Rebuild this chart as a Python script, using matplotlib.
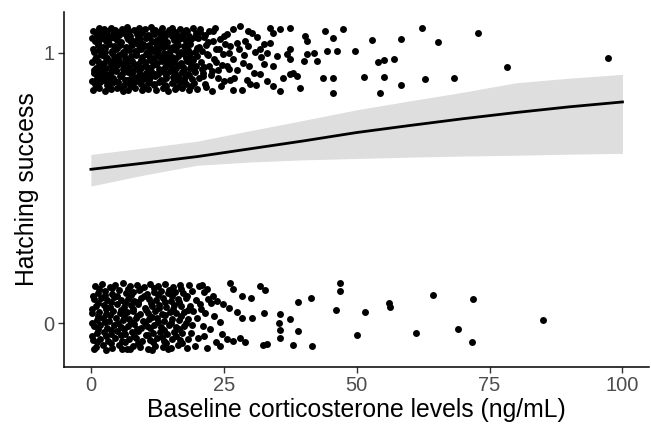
import numpy as np
import matplotlib
matplotlib.use("Agg")
import matplotlib.pyplot as plt

## DATA
#
# jittered points around hatching success = 1
top_x = [
    0.4, 1.6, 2.5, 3.8, 4.6, 5.9, 6.8, 8.1, 9.0, 10.2, 11.3, 12.1, 13.4, 14.6, 15.3, 16.8, 17.9, 19.2, 20.6, 22.3,
    1.1, 2.0, 3.2, 4.1, 5.3, 6.3, 7.4, 8.6, 9.7, 10.8, 11.8, 12.9, 13.9, 15.0, 16.2, 17.3, 18.5, 19.8, 21.4,
    0.7, 1.8, 2.8, 3.6, 4.9, 5.7, 7.0, 7.9, 9.3, 10.4, 11.5, 12.5, 13.6, 14.4, 15.7, 16.6, 17.8, 18.9, 20.1, 23.0,
    1.3, 2.3, 3.4, 4.4, 5.5, 6.6, 7.7, 8.8, 9.9, 11.0, 12.2, 13.2, 14.3, 15.5, 16.4, 17.5, 18.7, 20.3, 21.7,
    0.5, 1.5, 2.6, 3.9, 4.7, 6.0, 7.1, 8.3, 9.4, 10.6, 11.6, 12.7, 13.8, 14.9, 16.0, 17.0, 18.2, 19.5, 20.9, 24.1,
    1.0, 2.1, 3.1, 4.3, 5.2, 6.4, 7.5, 8.5, 9.6, 10.9, 11.9, 13.0, 14.1, 15.2, 16.3, 17.6, 18.8, 19.9, 22.0,
    0.3, 1.4, 2.4, 3.5, 4.5, 5.6, 6.7, 7.8, 8.9, 10.1, 11.2, 12.4, 13.3, 14.7, 15.6, 16.9, 18.0, 19.3, 20.7, 23.6,
    0.9, 1.9, 2.9, 4.0, 5.0, 6.1, 7.2, 8.4, 9.5, 10.5, 11.7, 12.8, 14.0, 15.1, 16.1, 17.4, 18.6, 19.7, 21.2,
    0.6, 1.7, 2.7, 3.7, 4.8, 5.8, 6.9, 8.0, 9.2, 10.3, 11.4, 12.6, 13.7, 14.8, 15.9, 17.1, 18.3, 19.6, 21.0, 22.8,
    1.2, 2.2, 3.3, 4.2, 5.4, 6.5, 7.6, 8.7, 9.8, 11.1, 12.0, 13.1, 14.2, 15.4, 16.5, 17.7, 19.0, 20.4,
    0.8, 1.8, 3.0, 4.0, 5.1, 6.2, 7.3, 8.2, 9.4, 10.7, 11.9, 12.9, 14.0, 15.2, 16.7, 17.9, 19.4, 21.5,
    0.4, 1.5, 2.6, 3.8, 4.9, 6.0, 7.0, 8.3, 9.6, 10.8, 12.3, 13.5, 14.5, 15.8, 17.2, 18.4, 20.0,
    20.5, 21.3, 22.1, 22.9, 23.5, 24.2, 24.8, 25.3, 21.8, 23.2, 24.6, 25.9, 20.9, 22.5, 23.9, 25.1, 21.6, 22.7,
    24.0, 25.6, 23.4, 24.4, 22.2, 21.1, 25.0,
    27.9, 29.0, 31.2, 32.0, 29.8, 27.0, 31.0, 28.8, 30.8, 26.0, 32.6, 36.2, 29.5,
    28.1, 29.6, 30.3, 33.7, 34.3, 35.6, 37.5, 40.3, 40.6, 44.1, 45.6, 46.3, 44.4, 41.9, 40.6, 40.0, 42.5,
    37.5, 36.9, 37.5, 35.0, 33.7, 32.5, 31.8, 33.1, 34.3, 38.1, 38.7, 37.5, 39.4, 43.7, 45.6, 45.6, 35.6,
    34.3, 33.1, 31.8, 30.6, 29.3, 30.0, 28.4, 26.8, 26.2, 27.4, 28.7, 26.8, 26.2, 27.4, 25.6, 26.8,
    47.5, 52.9, 49.6, 58.3, 62.3, 65.3, 72.8, 54.1, 55.1, 57.0, 51.3, 55.1, 58.3, 54.4, 62.9, 68.4, 78.3, 97.2,
]
top_y = [
    1.082, 1.090, 1.086, 1.093, 1.084, 1.089, 1.095, 1.083, 1.091, 1.087, 1.094, 1.085, 1.090, 1.083, 1.092, 1.088, 1.084, 1.091, 1.086, 1.080,
    1.066, 1.072, 1.063, 1.070, 1.065, 1.074, 1.061, 1.069, 1.073, 1.064, 1.068, 1.075, 1.062, 1.071, 1.066, 1.070, 1.063, 1.072, 1.067,
    1.045, 1.050, 1.042, 1.053, 1.047, 1.041, 1.051, 1.044, 1.049, 1.054, 1.043, 1.048, 1.052, 1.040, 1.046, 1.051, 1.044, 1.049, 1.055, 1.043,
    1.027, 1.022, 1.031, 1.025, 1.030, 1.021, 1.028, 1.033, 1.024, 1.029, 1.020, 1.032, 1.026, 1.023, 1.030, 1.025, 1.034, 1.022, 1.028,
    1.004, 1.010, 1.001, 1.008, 1.012, 1.003, 1.009, 1.005, 1.013, 1.002, 1.007, 1.011, 1.000, 1.006, 1.010, 1.004, 1.009, 1.002, 1.008, 1.012,
    0.985, 0.990, 0.982, 0.988, 0.993, 0.981, 0.987, 0.992, 0.984, 0.989, 0.980, 0.986, 0.991, 0.983, 0.988, 0.994, 0.982, 0.987, 0.990,
    0.964, 0.970, 0.961, 0.968, 0.973, 0.962, 0.967, 0.971, 0.960, 0.966, 0.972, 0.963, 0.969, 0.974, 0.965, 0.961, 0.968, 0.972, 0.964, 0.966,
    0.945, 0.950, 0.942, 0.948, 0.953, 0.941, 0.946, 0.951, 0.943, 0.949, 0.954, 0.940, 0.947, 0.952, 0.944, 0.949, 0.942, 0.951, 0.946,
    0.925, 0.930, 0.921, 0.928, 0.933, 0.922, 0.927, 0.931, 0.920, 0.926, 0.932, 0.923, 0.929, 0.934, 0.924, 0.928, 0.921, 0.930, 0.926, 0.931,
    0.905, 0.910, 0.902, 0.908, 0.913, 0.901, 0.906, 0.911, 0.903, 0.909, 0.914, 0.900, 0.907, 0.912, 0.904, 0.909, 0.902, 0.908,
    0.885, 0.890, 0.882, 0.888, 0.893, 0.881, 0.886, 0.891, 0.883, 0.889, 0.884, 0.892, 0.880, 0.887, 0.890, 0.883, 0.888, 0.885,
    0.862, 0.868, 0.860, 0.866, 0.871, 0.859, 0.864, 0.869, 0.861, 0.867, 0.863, 0.870, 0.858, 0.865, 0.869, 0.861, 0.866,
    1.075, 1.058, 1.038, 1.080, 1.015, 1.052, 0.995, 1.034, 0.997, 0.975, 0.955, 1.000, 0.940, 0.918, 0.935, 0.895, 0.875, 0.860,
    0.905, 0.950, 1.090, 0.878, 0.952, 0.915, 1.062,
    1.015, 1.045, 1.060, 0.985, 0.950, 0.905, 0.880, 0.992, 1.002, 0.940, 0.958, 0.905, 1.025,
    1.098, 1.080, 1.074, 1.092, 1.074, 1.086, 1.092, 1.061, 1.043, 1.080, 1.055, 1.008, 1.006, 1.000, 0.997, 0.969, 0.969,
    1.012, 0.994, 0.975, 0.987, 1.037, 1.031, 1.012, 1.000, 0.951, 0.926, 0.914, 0.920, 0.868, 0.908, 0.908, 0.852, 0.858,
    0.877, 0.895, 0.920, 0.926, 0.901, 0.883, 0.864, 0.864, 0.901, 0.938, 0.963, 0.975, 1.024, 1.037, 1.068, 1.086,
    1.089, 1.047, 1.007, 1.049, 1.092, 1.038, 1.074, 0.967, 0.972, 0.978, 0.911, 0.911, 0.879, 0.851, 0.902, 0.906, 0.948, 0.980,
]

# more points filling the crowded low-dose part of the upper band
top_fill_x = [
    1.0, 3.0, 5.0, 7.2, 9.5, 11.6, 13.8, 15.9, 18.1,
    0.2, 2.4, 4.5, 6.8, 8.9, 10.9, 13.0, 15.2, 17.4, 19.6,
    1.3, 3.3, 5.4, 7.6, 9.8, 12.0, 14.0, 16.2, 18.4,
    0.4, 2.7, 4.9, 7.0, 9.0, 11.2, 13.5, 15.6, 17.8, 19.9,
    1.9, 4.0, 6.2, 8.4, 10.4, 12.5, 14.5, 16.6, 18.7,
    0.8, 2.9, 5.1, 7.3, 9.4, 11.4, 13.6, 15.8, 17.9,
    1.6, 3.8, 6.0, 8.1, 10.2, 12.3, 14.3, 16.5, 18.8,
    0.5, 2.5, 4.7, 6.9, 9.0, 11.0, 13.1, 15.3, 17.5, 19.4,
    1.4, 3.5, 5.6, 7.8, 10.0, 12.1, 14.2, 16.4, 18.5,
    0.3, 2.4, 4.5, 6.7, 8.8, 10.9, 13.4, 15.6, 17.6,
    1.2, 3.3, 5.5, 7.7, 9.9, 11.8, 14.1, 16.2, 18.9,
]
top_fill_y = [
    1.076, 1.080, 1.075, 1.079, 1.077, 1.081, 1.074, 1.078, 1.080,
    1.055, 1.059, 1.056, 1.060, 1.054, 1.058, 1.057, 1.061, 1.055, 1.058,
    1.036, 1.039, 1.035, 1.038, 1.034, 1.040, 1.036, 1.037, 1.039,
    1.015, 1.018, 1.016, 1.019, 1.014, 1.017, 1.020, 1.015, 1.018, 1.016,
    0.996, 0.999, 0.995, 0.998, 0.994, 1.000, 0.997, 0.995, 0.999,
    0.976, 0.979, 0.975, 0.978, 0.974, 0.980, 0.977, 0.975, 0.979,
    0.955, 0.958, 0.956, 0.959, 0.954, 0.958, 0.957, 0.955, 0.960,
    0.936, 0.939, 0.935, 0.938, 0.934, 0.940, 0.937, 0.935, 0.939, 0.936,
    0.916, 0.919, 0.915, 0.918, 0.914, 0.920, 0.917, 0.915, 0.919,
    0.896, 0.899, 0.895, 0.898, 0.894, 0.900, 0.897, 0.895, 0.899,
    0.875, 0.878, 0.874, 0.877, 0.873, 0.879, 0.876, 0.874, 0.878,
]

# jittered points around hatching success = 0
bot_x = [
    0.8, 2.0, 3.5, 4.6, 6.1, 7.3, 8.6, 9.9, 11.2, 12.6, 13.9, 15.4, 16.8, 18.5, 20.3,
    1.3, 2.7, 3.9, 5.2, 6.6, 7.9, 9.1, 10.5, 11.8, 13.1, 14.5, 15.9, 17.4, 19.0, 21.2,
    0.5, 1.9, 3.1, 4.4, 5.7, 7.0, 8.2, 9.5, 10.9, 12.2, 13.5, 15.0, 16.3, 17.9, 19.8, 22.0,
    1.0, 2.4, 3.6, 4.9, 6.3, 7.6, 8.8, 10.2, 11.5, 12.9, 14.2, 15.6, 17.0, 18.7, 20.6,
    0.3, 1.6, 2.9, 4.1, 5.4, 6.8, 8.0, 9.3, 10.7, 12.0, 13.3, 14.8, 16.1, 17.6, 19.3, 21.5,
    1.1, 2.2, 3.4, 4.7, 6.0, 7.2, 8.5, 9.8, 11.0, 12.4, 13.7, 15.2, 16.6, 18.2, 20.0,
    0.6, 1.8, 3.0, 4.3, 5.6, 6.9, 8.1, 9.4, 10.6, 11.9, 13.2, 14.6, 16.0, 17.5, 19.1, 21.0,
    1.2, 2.5, 3.7, 5.0, 6.4, 7.7, 8.9, 10.3, 11.6, 13.0, 14.3, 15.7, 17.2, 18.9,
    0.4, 1.7, 3.2, 4.5, 5.8, 7.1, 8.4, 9.7, 11.1, 12.5, 13.8, 15.3, 16.7, 18.3, 20.2,
    1.0, 2.3, 3.9, 5.3, 6.7, 8.0, 9.2, 10.8, 12.1, 13.6, 15.0, 16.4, 18.0, 19.6, 21.8,
    21.8, 22.9, 20.8, 23.1, 22.4, 21.3, 23.5, 22.6, 24.2, 20.9,
    26.2, 26.8, 28.4, 30.1, 31.8, 32.8, 38.9, 41.5, 46.1, 32.5, 35.6, 37.5, 35.3, 35.6, 38.9, 35.6, 38.1,
    41.6, 33.1, 32.3, 29.0, 28.1, 26.8, 25.6, 24.6, 24.3, 30.3, 28.4, 27.4, 25.9, 24.9, 23.7,
    46.9, 46.9, 56.0, 56.3, 64.3, 71.8, 51.6, 50.1, 61.1, 69.0, 71.6, 85.0,
]
bot_y = [
    0.138, 0.145, 0.134, 0.142, 0.147, 0.136, 0.141, 0.133, 0.144, 0.139, 0.146, 0.135, 0.140, 0.143, 0.137,
    0.113, 0.118, 0.109, 0.121, 0.111, 0.116, 0.122, 0.108, 0.114, 0.119, 0.110, 0.117, 0.112, 0.120, 0.115,
    0.088, 0.093, 0.084, 0.096, 0.087, 0.091, 0.083, 0.095, 0.089, 0.086, 0.094, 0.082, 0.090, 0.092, 0.085, 0.088,
    0.063, 0.068, 0.059, 0.070, 0.061, 0.066, 0.071, 0.058, 0.064, 0.069, 0.060, 0.067, 0.062, 0.065, 0.070,
    0.038, 0.043, 0.034, 0.045, 0.036, 0.041, 0.046, 0.033, 0.039, 0.044, 0.035, 0.042, 0.037, 0.040, 0.045, 0.036,
    0.013, 0.018, 0.009, 0.020, 0.011, 0.016, 0.021, 0.008, 0.014, 0.019, 0.010, 0.017, 0.012, 0.015, 0.020,
    -0.012, -0.007, -0.016, -0.005, -0.014, -0.009, -0.004, -0.017, -0.011, -0.006, -0.015, -0.008, -0.013, -0.010, -0.005, -0.012,
    -0.037, -0.032, -0.041, -0.030, -0.039, -0.034, -0.029, -0.042, -0.036, -0.031, -0.040, -0.033, -0.038, -0.035,
    -0.062, -0.057, -0.066, -0.055, -0.064, -0.059, -0.054, -0.067, -0.061, -0.056, -0.065, -0.058, -0.063, -0.060, -0.056,
    -0.087, -0.082, -0.091, -0.080, -0.094, -0.084, -0.089, -0.096, -0.083, -0.088, -0.093, -0.081, -0.090, -0.086, -0.092,
    0.128, 0.102, 0.054, 0.028, -0.020, -0.048, -0.070, 0.075, 0.005, 0.142,
    0.150, 0.126, 0.101, 0.092, 0.138, 0.122, 0.080, 0.092, 0.048, 0.036, 0.033, 0.015, -0.001, -0.026, -0.028, -0.053, -0.081,
    -0.084, -0.078, -0.080, -0.071, -0.053, -0.065, -0.059, -0.041, -0.084, 0.021, 0.021, 0.040, 0.058, 0.070, 0.082,
    0.147, 0.119, 0.076, 0.060, 0.105, 0.090, 0.042, -0.042, -0.038, -0.022, -0.069, 0.011,
]

# more points filling the crowded low-dose part of the lower band
bot_fill_x = [
    1.5, 4.0, 6.9, 9.3, 11.8, 14.7, 17.0,
    0.4, 2.6, 5.0, 7.5, 10.0, 12.7, 15.3, 18.0,
    1.4, 3.8, 6.4, 8.8, 11.3, 13.9, 16.5,
    0.2, 2.9, 5.6, 8.0, 10.4, 12.8, 15.4, 18.3,
    1.3, 3.6, 6.2, 8.7, 11.5, 14.0, 16.9,
    0.3, 2.6, 5.1, 7.6, 10.1, 12.6, 15.1, 17.8,
    1.3, 3.7, 6.2, 8.7, 11.2, 13.8, 16.6,
    0.3, 2.9, 5.6, 8.1, 10.7, 13.4, 16.0,
    1.2, 3.8, 6.4, 8.9, 11.6, 14.1, 17.1,
    0.6, 2.9, 5.9, 7.4, 11.5, 14.5,
]
bot_fill_y = [
    0.126, 0.129, 0.125, 0.128, 0.130, 0.124, 0.127,
    0.101, 0.104, 0.100, 0.103, 0.099, 0.105, 0.102, 0.100,
    0.076, 0.079, 0.075, 0.078, 0.074, 0.080, 0.077,
    0.051, 0.054, 0.050, 0.053, 0.049, 0.055, 0.052, 0.050,
    0.026, 0.029, 0.025, 0.028, 0.024, 0.030, 0.027,
    0.001, 0.004, 0.000, 0.003, -0.001, 0.005, 0.002, 0.000,
    -0.021, -0.024, -0.020, -0.023, -0.019, -0.025, -0.022,
    -0.046, -0.049, -0.045, -0.048, -0.044, -0.050, -0.047,
    -0.071, -0.074, -0.070, -0.073, -0.069, -0.075, -0.072,
    -0.096, -0.098, -0.095, -0.097, -0.099, -0.096,
]

# fitted logistic curve and its confidence band
fit_x = [0, 10, 20, 30, 40, 50, 60, 70, 80, 90, 100]
fit_y = [0.569, 0.592, 0.616, 0.645, 0.674, 0.705, 0.731, 0.756, 0.779, 0.800, 0.818]
fit_hi = [0.624, 0.648, 0.673, 0.712, 0.750, 0.789, 0.822, 0.854, 0.889, 0.906, 0.920]
fit_lo = [0.507, 0.548, 0.584, 0.596, 0.604, 0.609, 0.614, 0.618, 0.621, 0.625, 0.628]

## PLOT
#
plt.rcParams['font.family'] = ['Liberation Sans', 'DejaVu Sans']

fig = plt.figure(figsize=(6.51, 4.24), dpi=100)
ax = fig.add_axes([0.0988, 0.135, 0.8982, 0.8376])

ax.fill_between(fit_x, fit_lo, fit_hi, color='#dedede', lw=0, zorder=1)
ax.plot(fit_x, fit_y, color='black', lw=2, zorder=2)
ax.scatter(top_x + top_fill_x, top_y + top_fill_y, s=25, color='black', lw=0, zorder=3)
ax.scatter(bot_x + bot_fill_x, bot_y + bot_fill_y, s=25, color='black', lw=0, zorder=3)

ax.set_xlim(-5, 105)
ax.set_ylim(-0.161, 1.152)
ax.set_xticks([0, 25, 50, 75, 100])
ax.set_yticks([0, 1])

for side in ['top', 'right']:
    ax.spines[side].set_visible(False)
for side in ['left', 'bottom']:
    ax.spines[side].set_linewidth(1.1)
ax.tick_params(length=4, width=1, color='#333333', labelcolor='#4d4d4d',
               labelsize=14.5, pad=3)

ax.set_xlabel('Baseline corticosterone levels (ng/mL)', fontsize=17.8, labelpad=2)
ax.set_ylabel('Hatching success', fontsize=17.8, labelpad=3)

plt.savefig('out.png', dpi=100)
